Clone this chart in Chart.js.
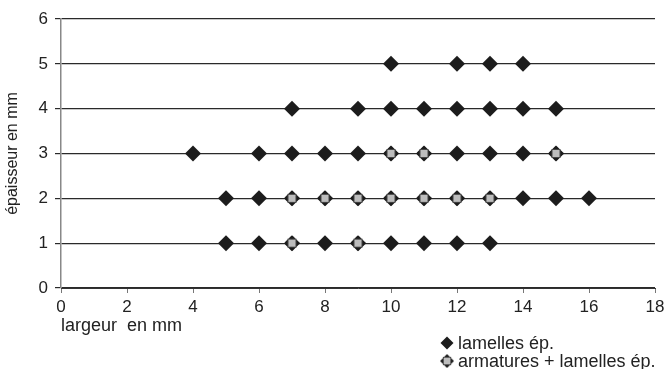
<!DOCTYPE html>
<html>
<head>
<meta charset="utf-8">
<title>lamelles</title>
<script src="https://cdn.jsdelivr.net/npm/chart.js@4.4.1/dist/chart.umd.min.js"></script>
<style>
    html, body { margin: 0; padding: 0; background: #fff; }
    #wrap { width: 670px; height: 369px; }
</style>
</head>
<body>
<div id="wrap"><canvas id="chart" width="670" height="369"></canvas></div>
<script>
    // widths (mm) found for each thickness (mm)
    const lamellesEp1 = [5, 6, 7, 8, 9, 10, 11, 12, 13];
    const lamellesEp2 = [5, 6, 7, 8, 9, 10, 11, 12, 13, 14, 15, 16];
    const lamellesEp3 = [4, 6, 7, 8, 9, 10, 11, 12, 13, 14, 15];
    const lamellesEp4 = [7, 9, 10, 11, 12, 13, 14, 15];
    const lamellesEp5 = [10, 12, 13, 14];

    const armaturesEp1 = [7, 9];
    const armaturesEp2 = [7, 8, 9, 10, 11, 12, 13];
    const armaturesEp3 = [10, 11, 15];

    const xTicks = [0, 2, 4, 6, 8, 10, 12, 14, 16, 18];
    const yTicks = [0, 1, 2, 3, 4, 5, 6];

    const labels = ["lamelles ép.", "armatures + lamelles ép."];

    const FONT = "'Liberation Sans', Arial, sans-serif";

    function toPoints(rows) {
        var pts = [];
        rows.forEach(function (row, i) {
            row.forEach(function (x) {
                pts.push({ x: x, y: i + 1 });
            });
        });
        return pts;
    }

    // grey square marker on a small diamond
    function squareMarker() {
        var c = document.createElement("canvas");
        c.width = 15;
        c.height = 15;
        var g = c.getContext("2d");
        g.fillStyle = "#1c1c1c";
        g.beginPath();
        g.moveTo(7.5, 0);
        g.lineTo(15, 7.5);
        g.lineTo(7.5, 15);
        g.lineTo(0, 7.5);
        g.closePath();
        g.fill();
        g.fillStyle = "#bdbdbd";
        g.strokeStyle = "#444";
        g.lineWidth = 1;
        g.fillRect(3.5, 3.5, 8, 8);
        g.strokeRect(3.5, 3.5, 8, 8);
        return c;
    }
    const marker2 = squareMarker();

    // Legend drawn at bottom right
    const cornerLegend = {
        id: "cornerLegend",
        afterDraw: function (chart) {
            var ctx = chart.ctx;
            var x0 = 447, y0 = 343, gap = 18;
            ctx.save();
            ctx.font = "18px " + FONT;
            ctx.textBaseline = "middle";
            chart.data.datasets.forEach(function (ds, i) {
                var y = y0 + i * gap;
                if (i === 0) {
                    ctx.fillStyle = "#1c1c1c";
                    ctx.beginPath();
                    ctx.moveTo(x0, y - 6.5);
                    ctx.lineTo(x0 + 6.5, y);
                    ctx.lineTo(x0, y + 6.5);
                    ctx.lineTo(x0 - 6.5, y);
                    ctx.closePath();
                    ctx.fill();
                } else {
                    ctx.drawImage(marker2, x0 - 7, y - 7, 14, 14);
                }
                ctx.fillStyle = "#222";
                ctx.fillText(ds.label, x0 + 11, y + 1);
            });
            ctx.restore();
        }
    };

    Chart.defaults.font.family = FONT;
    Chart.defaults.font.size = 17;
    Chart.defaults.color = "#222";

    new Chart(document.getElementById("chart"), {
        type: "scatter",
        data: {
            datasets: [
                {
                    label: labels[0],
                    data: toPoints([lamellesEp1, lamellesEp2, lamellesEp3, lamellesEp4, lamellesEp5]),
                    pointStyle: "rectRot",
                    pointRadius: 8,
                    backgroundColor: "#1c1c1c",
                    borderColor: "#1c1c1c",
                    borderWidth: 0,
                    order: 2
                },
                {
                    label: labels[1],
                    data: toPoints([armaturesEp1, armaturesEp2, armaturesEp3]),
                    pointStyle: marker2,
                    pointRadius: 7,
                    order: 1
                }
            ]
        },
        options: {
            responsive: false,
            animation: false,
            layout: { padding: { top: 19, right: 15, left: 0, bottom: 0 } },
            plugins: {
                legend: { display: false },
                tooltip: { enabled: false }
            },
            scales: {
                x: {
                    type: "linear",
                    min: 0,
                    max: 18,
                    afterBuildTicks: function (scale) {
                        scale.ticks = xTicks.map(function (v) { return { value: v }; });
                    },
                    afterFit: function (scale) { scale.height = 81; },
                    grid: {
                        drawOnChartArea: false,
                        color: "#777",
                        tickLength: 5
                    },
                    border: { color: "#333", width: 1 },
                    ticks: { padding: 4, color: "#222", maxRotation: 0, font: { size: 17 } },
                    title: {
                        display: true,
                        text: "largeur  en mm",
                        align: "start",
                        color: "#222",
                        font: { size: 18 },
                        padding: { top: 0, bottom: 32 }
                    }
                },
                y: {
                    min: 0,
                    max: 6,
                    afterBuildTicks: function (scale) {
                        scale.ticks = yTicks.map(function (v) { return { value: v }; });
                    },
                    afterFit: function (scale) { scale.width = 61; },
                    grid: {
                        color: "#2a2a2a",
                        lineWidth: 1.2,
                        tickLength: 6
                    },
                    border: { color: "#888", width: 1.5 },
                    ticks: { padding: 7, color: "#222", font: { size: 17 } },
                    title: {
                        display: true,
                        text: "épaisseur en mm",
                        color: "#222",
                        font: { size: 16 },
                        padding: { top: 3, bottom: 0 }
                    }
                }
            }
        },
        plugins: [cornerLegend]
    });
</script>
</body>
</html>
